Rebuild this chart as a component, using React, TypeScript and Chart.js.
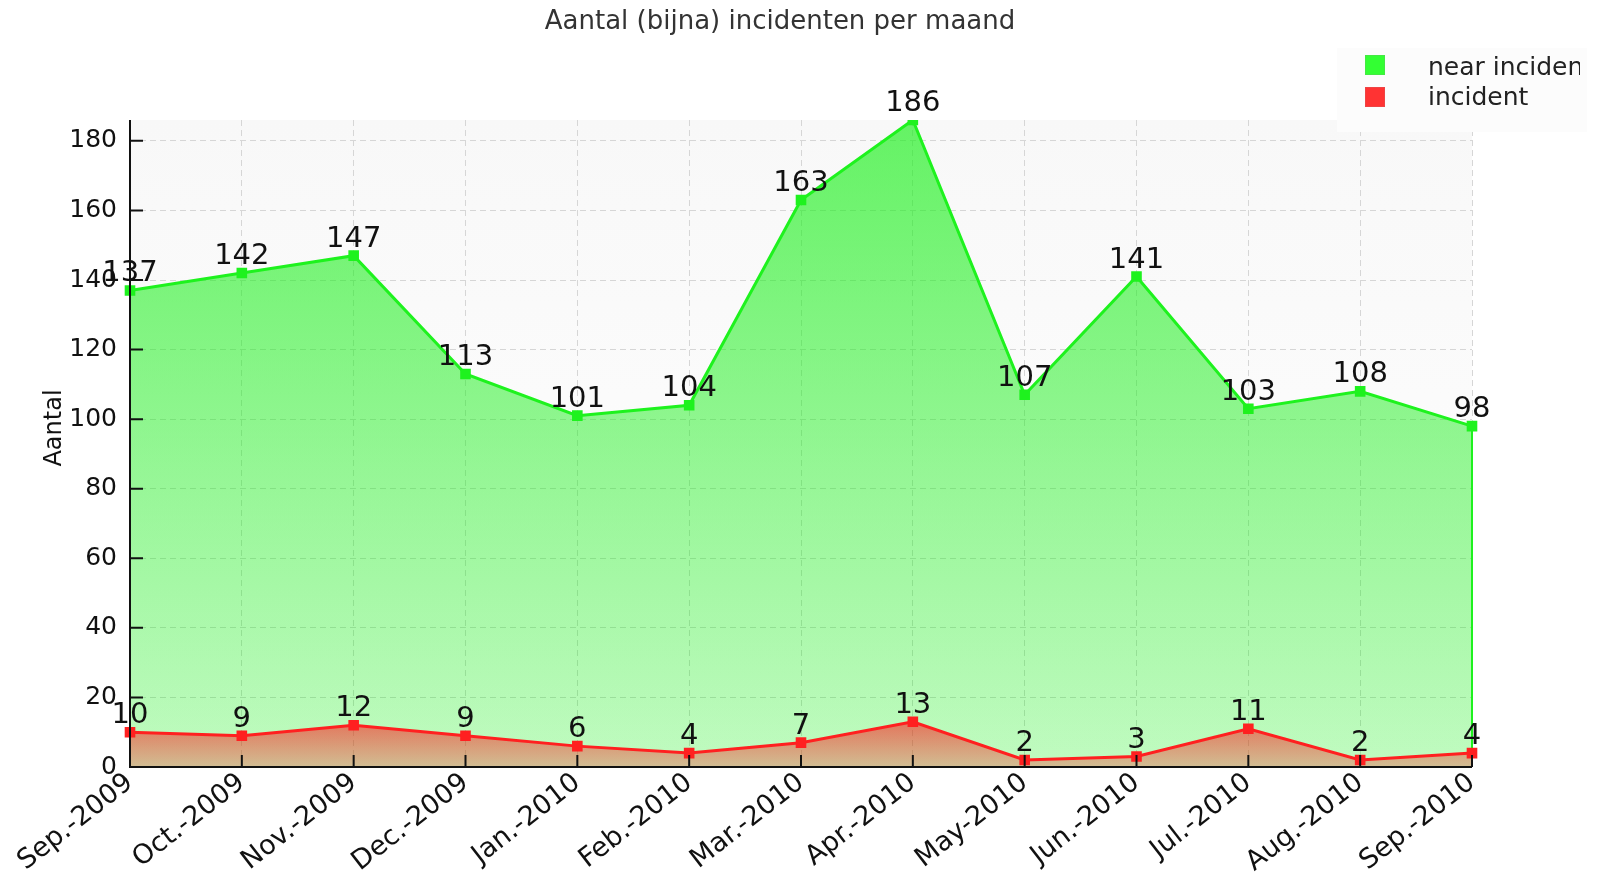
import React, { useEffect, useRef } from 'react';
import { Chart, registerables } from 'chart.js';

Chart.register(...registerables);

const categories = [
  'Sep.-2009', 'Oct.-2009', 'Nov.-2009', 'Dec.-2009', 'Jan.-2010', 'Feb.-2010',
  'Mar.-2010', 'Apr.-2010', 'May-2010', 'Jun.-2010', 'Jul.-2010', 'Aug.-2010', 'Sep.-2010',
];
const nearIncidents = [137, 142, 147, 113, 101, 104, 163, 186, 107, 141, 103, 108, 98];
const incidents = [10, 9, 12, 9, 6, 4, 7, 13, 2, 3, 11, 2, 4];
const yTicks = [0, 20, 40, 60, 80, 100, 120, 140, 160, 180];
const yMax = 186;
const seriesNames = ['near incident', 'incident'];
const titleText = 'Aantal (bijna) incidenten per maand';
const yAxisTitle = 'Aantal';

const FONT = "'DejaVu Sans', Verdana, sans-serif";
const GREEN = '#1ef21e';
const RED = '#ff2020';

const decor = {
  id: 'decor',
  beforeDraw(chart: any) {
    const { ctx, chartArea: a } = chart;
    ctx.save();
    const g = ctx.createLinearGradient(0, a.top, 0, a.bottom);
    g.addColorStop(0, '#f8f8f8');
    g.addColorStop(1, '#ffffff');
    ctx.fillStyle = g;
    ctx.fillRect(a.left, a.top, a.right - a.left, a.bottom - a.top);
    ctx.restore();
  },
  afterDatasetDraw(chart: any, args: any) {
    if (args.index !== 0) return;
    const { ctx } = chart;
    const pts = chart.getDatasetMeta(0).data;
    const last = pts[pts.length - 1];
    const y0 = chart.scales.y.getPixelForValue(0);
    ctx.save();
    ctx.strokeStyle = GREEN;
    ctx.lineWidth = 2;
    ctx.beginPath();
    ctx.moveTo(last.x, last.y);
    ctx.lineTo(last.x, y0);
    ctx.stroke();
    ctx.restore();
  },
  afterDatasetsDraw(chart: any) {
    const { ctx, chartArea: a } = chart;
    const xs = chart.scales.x;
    const ys = chart.scales.y;
    ctx.save();
    // axes
    ctx.strokeStyle = '#111';
    ctx.lineWidth = 2;
    ctx.beginPath();
    ctx.moveTo(a.left, a.top);
    ctx.lineTo(a.left, a.bottom);
    ctx.lineTo(a.right, a.bottom);
    ctx.stroke();
    // inward tick marks
    ctx.beginPath();
    yTicks.forEach((v) => {
      const y = ys.getPixelForValue(v);
      ctx.moveTo(a.left, y);
      ctx.lineTo(a.left + 13, y);
    });
    categories.forEach((_, i) => {
      const x = xs.getPixelForValue(i);
      ctx.moveTo(x, a.bottom);
      ctx.lineTo(x, a.bottom - 12);
    });
    ctx.stroke();
    // data labels
    ctx.fillStyle = '#111';
    ctx.font = `29px ${FONT}`;
    ctx.textAlign = 'center';
    ctx.textBaseline = 'alphabetic';
    [0, 1].forEach((di) => {
      const meta = chart.getDatasetMeta(di);
      const vals = chart.data.datasets[di].data;
      meta.data.forEach((p: any, i: number) => {
        ctx.fillText(String(vals[i]), p.x, p.y - 9);
      });
    });
    ctx.restore();
  },
  afterDraw(chart: any) {
    const { ctx } = chart;
    ctx.save();
    // title
    ctx.fillStyle = '#333';
    ctx.font = `26px ${FONT}`;
    ctx.textAlign = 'center';
    ctx.textBaseline = 'middle';
    ctx.fillText(titleText, 780, 22);
    // y axis title
    ctx.save();
    ctx.translate(55, 428);
    ctx.rotate(-Math.PI / 2);
    ctx.fillStyle = '#111';
    ctx.font = `24px ${FONT}`;
    ctx.fillText(yAxisTitle, 0, 0);
    ctx.restore();
    // legend
    ctx.fillStyle = '#fcfcfc';
    ctx.fillRect(1337, 48, 250, 84);
    ctx.save();
    ctx.beginPath();
    ctx.rect(1337, 40, 243, 94);
    ctx.clip();
    const colors = ['#33ff33', '#ff3333'];
    const borders = ['#44e844', '#ee4444'];
    seriesNames.forEach((name, i) => {
      const y = 55 + i * 32;
      ctx.fillStyle = colors[i];
      ctx.fillRect(1365, y, 20, 20);
      ctx.strokeStyle = borders[i];
      ctx.lineWidth = 1;
      ctx.strokeRect(1365.5, y + 0.5, 19, 19);
      ctx.fillStyle = '#222';
      ctx.font = `25px ${FONT}`;
      ctx.textAlign = 'left';
      ctx.textBaseline = 'alphabetic';
      ctx.fillText(name, 1428, 75 + i * 30);
    });
    ctx.restore();
    ctx.restore();
  },
};

export default function App() {
  const ref = useRef<HTMLCanvasElement>(null);
  useEffect(() => {
    if (!ref.current) return;
    const chart = new Chart(ref.current, {
      type: 'line',
      data: {
        labels: categories,
        datasets: [
          {
            label: seriesNames[0],
            data: nearIncidents,
            order: 2,
            borderColor: GREEN,
            borderWidth: 3,
            tension: 0,
            pointStyle: 'rect',
            pointRadius: 7.5,
            pointBorderWidth: 0,
            pointBackgroundColor: GREEN,
            fill: 'origin',
            backgroundColor: (c: any) => {
              const a = c.chart.chartArea;
              if (!a) return 'rgba(30,240,30,0.5)';
              const g = c.chart.ctx.createLinearGradient(0, a.top, 0, a.bottom);
              g.addColorStop(0, 'rgba(30,240,30,0.68)');
              g.addColorStop(1, 'rgba(30,240,30,0.28)');
              return g;
            },
          },
          {
            label: seriesNames[1],
            data: incidents,
            order: 1,
            borderColor: RED,
            borderWidth: 3,
            tension: 0,
            pointStyle: 'rect',
            pointRadius: 7.5,
            pointBorderWidth: 0,
            pointBackgroundColor: RED,
            fill: 'origin',
            backgroundColor: (c: any) => {
              const a = c.chart.chartArea;
              const ys = c.chart.scales && c.chart.scales.y;
              if (!a || !ys) return 'rgba(255,30,30,0.45)';
              const top = ys.getPixelForValue(Math.max(...incidents));
              const g = c.chart.ctx.createLinearGradient(0, top, 0, a.bottom);
              g.addColorStop(0, 'rgba(255,30,30,0.6)');
              g.addColorStop(1, 'rgba(255,30,30,0.28)');
              return g;
            },
          },
        ],
      },
      options: {
        animation: false,
        responsive: false,
        devicePixelRatio: 1,
        layout: { padding: { top: 120, right: 125, left: 0, bottom: 0 } },
        plugins: {
          legend: { display: false },
          title: { display: false },
          tooltip: { enabled: false },
        },
        scales: {
          x: {
            grid: { color: '#d6d6d6', lineWidth: 1, drawTicks: false },
            border: { display: false, dash: [6, 4] },
            ticks: {
              autoSkip: false,
              minRotation: 38,
              maxRotation: 38,
              padding: 0,
              color: '#111',
              font: { family: FONT, size: 27 },
            },
            afterFit: (s: any) => {
              s.height = 108;
            },
          },
          y: {
            min: 0,
            max: yMax,
            grid: { color: '#d6d6d6', lineWidth: 1, drawTicks: false },
            border: { display: false, dash: [6, 4] },
            ticks: {
              padding: 13,
              color: '#111',
              font: { family: FONT, size: 25 },
            },
            afterBuildTicks: (s: any) => {
              s.ticks = yTicks.map((v) => ({ value: v }));
            },
            afterFit: (s: any) => {
              s.width = 130;
            },
          },
        },
      },
      plugins: [decor],
    });
    return () => chart.destroy();
  }, []);
  return (
    <div style={{ position: 'fixed', left: 0, top: 0, width: 1597, height: 875, background: '#fff' }}>
      <canvas ref={ref} width={1597} height={875} />
    </div>
  );
}
